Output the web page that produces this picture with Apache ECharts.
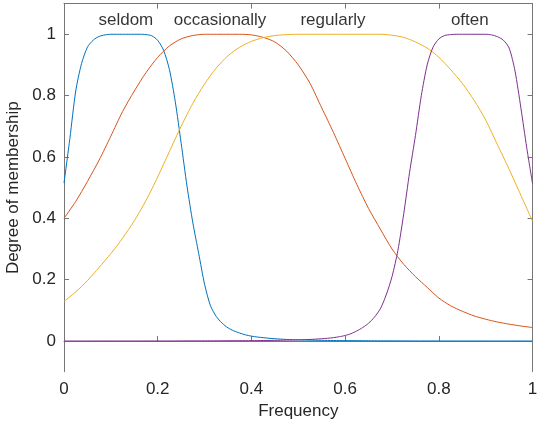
<!DOCTYPE html>
<html>
<head>
<meta charset="utf-8">
<script src="https://cdn.jsdelivr.net/npm/echarts@6/dist/echarts.min.js"></script>
<style>
html,body{margin:0;padding:0;background:#fff;}
#chart{width:538px;height:427px;}
</style>
</head>
<body>
<div id="chart"></div>
<script>
var fineStep = 0.0125;   // grid for the steep curves (seldom, often)
var coarseStep = 0.025;  // grid for the gentle curves (occasionally, regularly)

var seldomY = [0.515, 0.66, 0.815, 0.905, 0.958, 0.981, 0.993, 0.998, 1, 1, 1, 1, 1, 1, 0.999, 0.995, 0.98, 0.948, 0.885, 0.78, 0.645, 0.505, 0.385, 0.285, 0.185, 0.115, 0.08, 0.058, 0.043, 0.033, 0.026, 0.020, 0.016, 0.013, 0.011, 0.009, 0.0075, 0.0062, 0.0052, 0.0044, 0.0037,
  0.0032, 0.0028, 0.0024, 0.0021, 0.0019, 0.0017, 0.0015, 0.0013, 0.0012, 0.0011, 0.001, 0.0009, 0.0008, 0.0007, 0.00065, 0.0006, 0.00055, 0.0005, 0.00045, 0.0004, 0.00037, 0.00034, 0.00031, 0.00028, 0.00026, 0.00024, 0.00022, 0.0002, 0.00019, 0.00018, 0.00017, 0.00016, 0.00015, 0.00014, 0.00013, 0.00012, 0.00011, 0.0001, 0.0001, 0.0001];

var oftenY = [0.0001, 0.0001, 0.0001, 0.00011, 0.00012, 0.00013, 0.00014, 0.00015, 0.00016, 0.00017, 0.00018, 0.00019, 0.0002, 0.00022, 0.00024, 0.00026, 0.00028, 0.00031, 0.00034, 0.00037, 0.0004, 0.00045, 0.0005, 0.00055, 0.0006, 0.00065, 0.0007, 0.0008, 0.0009, 0.001, 0.0011, 0.0012, 0.0013, 0.0015, 0.0017, 0.0019, 0.0021, 0.0024, 0.0028, 0.0032, 0.0037,
  0.0044, 0.0052, 0.0062, 0.0075, 0.009, 0.011, 0.014, 0.018, 0.024, 0.033, 0.044, 0.058, 0.078, 0.105, 0.15, 0.21, 0.295, 0.415, 0.55, 0.67, 0.80, 0.90, 0.958, 0.985, 0.996, 0.999, 1, 1, 1, 1, 1, 1, 0.998, 0.992, 0.981, 0.955, 0.88, 0.76, 0.63, 0.512];

var occasionallyY = [0.40, 0.455, 0.52, 0.59, 0.668, 0.748, 0.815, 0.875, 0.925, 0.962, 0.985, 0.996, 1, 1, 1, 1, 0.998, 0.99, 0.975, 0.945, 0.90, 0.84, 0.76, 0.68, 0.595, 0.51, 0.432, 0.365, 0.30, 0.25, 0.21, 0.175, 0.14, 0.115, 0.097, 0.082, 0.071, 0.062, 0.055, 0.049, 0.044];

var regularlyY = [0.129, 0.16, 0.197, 0.24, 0.285, 0.335, 0.392, 0.458, 0.535, 0.618, 0.70, 0.775, 0.838, 0.89, 0.93, 0.958, 0.977, 0.989, 0.996, 0.999, 1, 1, 1, 1, 1, 1, 1, 1, 0.997, 0.99, 0.975, 0.955, 0.925, 0.885, 0.84, 0.785, 0.72, 0.64, 0.56, 0.475, 0.39];

var labelNames = ['seldom', 'occasionally', 'regularly', 'often'];
var labelX = [0.132, 0.333, 0.574, 0.866];
var labelY = [1.047, 1.047, 1.047, 1.047];

var xTicks = [0, 0.2, 0.4, 0.6, 0.8, 1];
var yTicks = [0, 0.2, 0.4, 0.6, 0.8, 1];

var xAxisName = 'Frequency';
var yAxisName = 'Degree of membership';

// ---- build ----
function onGrid(ys, step) {
  var out = [];
  for (var i = 0; i < ys.length; i++) out.push([+(i * step).toFixed(5), ys[i]]);
  return out;
}
var FONT = '"Liberation Sans", Arial, Helvetica, sans-serif';
var TXT = '#262626';
var AX = '#767676';

function lineSeries(name, data, color) {
  return {
    name: name, type: 'line', data: data,
    showSymbol: false, symbol: 'none', smooth: 0.25,
    lineStyle: { color: color, width: 1 }, silent: true, z: 3
  };
}

var labelData = [];
for (var i = 0; i < labelNames.length; i++) labelData.push({ value: [labelX[i], labelY[i]], name: labelNames[i] });

var chart = echarts.init(document.getElementById('chart'), null, { renderer: 'canvas' });
chart.setOption({
  animation: false,
  backgroundColor: '#ffffff',
  textStyle: { fontFamily: FONT },
  grid: { left: 64, right: 5.4, top: 3.6, bottom: 55.3, containLabel: false, outerBoundsMode: 'none' },
  xAxis: [{
    type: 'value', min: 0, max: 1, interval: 0.2, position: 'bottom',
    name: xAxisName, nameLocation: 'middle', nameGap: 31,
    nameTextStyle: { fontFamily: FONT, fontSize: 17, color: TXT },
    axisLine: { show: true, lineStyle: { color: AX, width: 1 } },
    axisTick: { show: true, inside: true, length: 5, lineStyle: { color: AX } },
    axisLabel: { show: true, margin: 9, fontFamily: FONT, fontSize: 17, color: TXT, customValues: xTicks },
    splitLine: { show: false }
  }, {
    type: 'value', min: 0, max: 1, interval: 0.2, position: 'top',
    axisLine: { show: true, onZero: false, lineStyle: { color: AX, width: 1 } },
    axisTick: { show: true, inside: true, length: 5, lineStyle: { color: AX } },
    axisLabel: { show: false },
    splitLine: { show: false }
  }],
  yAxis: [{
    type: 'value', min: -0.1, max: 1.1, position: 'left',
    name: yAxisName, nameLocation: 'middle', nameGap: 35,
    nameTextStyle: { fontFamily: FONT, fontSize: 17, color: TXT },
    axisLine: { show: true, onZero: false, lineStyle: { color: AX, width: 1 } },
    axisTick: { show: true, inside: true, length: 5, lineStyle: { color: AX }, customValues: yTicks },
    axisLabel: { show: true, margin: 8, fontFamily: FONT, fontSize: 17, color: TXT, customValues: yTicks },
    splitLine: { show: false }
  }, {
    type: 'value', min: -0.1, max: 1.1, position: 'right',
    axisLine: { show: true, onZero: false, lineStyle: { color: AX, width: 1 } },
    axisTick: { show: true, inside: true, length: 5, lineStyle: { color: AX }, customValues: yTicks },
    axisLabel: { show: false },
    splitLine: { show: false }
  }],
  series: [
    lineSeries('seldom', onGrid(seldomY, fineStep), '#0072BD'),
    lineSeries('occasionally', onGrid(occasionallyY, coarseStep), '#D95319'),
    lineSeries('regularly', onGrid(regularlyY, coarseStep), '#EDB120'),
    lineSeries('often', onGrid(oftenY, fineStep), '#7E2F8E'),
    {
      type: 'scatter', data: labelData, symbolSize: 0, silent: true, z: 5,
      label: { show: true, position: 'inside', formatter: '{b}', fontFamily: FONT, fontSize: 17, color: '#000000' }
    }
  ]
});
</script>
</body>
</html>
